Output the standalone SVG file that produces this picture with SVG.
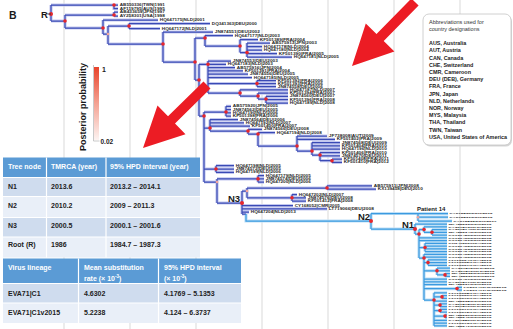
<svg xmlns="http://www.w3.org/2000/svg" xmlns:xlink="http://www.w3.org/1999/xlink" width="513" height="329" viewBox="0 0 513 329">
<style>
text{font-family:"Liberation Sans",Arial,sans-serif}
.grid{stroke:#d9d9d9;stroke-width:1}
.hd{fill:none;stroke:#c3c8ef;stroke-width:3.2}
.cd{fill:none;stroke:#3a4ab5;stroke-width:1.25}
.hl{fill:none;stroke:#bfe0f7;stroke-width:3.2}
.cl{fill:none;stroke:#3b9ae0;stroke-width:1.25}
.dot{fill:#e8262b}
.pale{fill:#f3a39a}
.lab{font-size:2.8px;font-weight:bold;fill:#2a2a2a}
.labl{font-size:2.35px;font-weight:bold;fill:#2a2a2a}
.nl{font-size:9.5px;font-weight:bold;fill:#1a1a1a}
.th{font-size:7px;font-weight:bold;fill:#fff}
.td{font-size:7px;font-weight:bold;fill:#222}
.ab{font-size:5.4px;font-weight:bold;fill:#222}
.abh{font-size:5.5px;fill:#333}
.arrow{fill:#ec1c24}
</style>
<defs>
<linearGradient id="pp" x1="0" y1="0" x2="0" y2="1">
<stop offset="0" stop-color="#e8432b"/>
<stop offset="0.5" stop-color="#f4a293"/>
<stop offset="1" stop-color="#fdf3f1"/>
</linearGradient>
<path id="dk" d="M51 5V21 M51 5H118 M114 5V8.5H118
M51 21H65 M65 15V28 M65 15H114 M114 12V16 M114 12H118 M114 16H118
M65 28H103 M103 20V34 M103 20H158
M103 34H108 M108 26V44
M108 26H129 M129 23.5V28.5 M129 23.5H210 M129 28.5H160
M108 44H163 M163 32V62 M163 32H213
M163 62H195 M195 38V80
M195 38H205 M205 35.5V46 M205 35.5H233
M205 46H240 M240 39.5V52.5 M240 39.5H258
M240 52.5H247 M247 43V57 M247 43H270 M247 46.5H262 M247 50H262 M247 53.5H277 M247 57H292
M195 80H199 M199 64.3V116
M199 64.3H208 M208 61V93 M208 61H231 M208 64.3H226 M208 67.6H235 M208 70.9H243 M208 74.2H248 M208 77.5H252
M208 83.5H257 M257 80.5V86.5 M257 80.5H276 M257 83.5H276 M257 86.5H276
M208 93H240 M240 89.8V96 M240 89.8H288
M240 96H258 M258 93.1V99 M258 93.1H288
M258 99H266 M266 96.4V103 M266 96.4H288 M266 99.7H288 M266 103H288
M199 116H204 M204 112V182
M204 112H226 M226 106.3V116.2 M226 106.3H231 M226 109.6H231 M226 112.9H231 M226 116.2H231
M204 128H210 M210 119.5V131 M210 119.5H238 M210 122.8H244 M210 126.1H250
M210 131H248 M248 129.4V134 M248 129.4H262
M248 134H258 M258 132.7V146 M258 132.7H275
M258 146H297 M297 136V151 M297 136H327 M297 139.3H335
M297 151H312 M312 142.6V155 M312 142.6H340 M312 145.9H340 M312 149.2H340
M312 155H320 M320 152.5V160.7 M320 152.5H340 M320 155.8H340
M320 160.7H332 M332 159.1V162.4 M332 159.1H342 M332 162.4H342
M204 169H216 M216 165.7V172.3 M216 165.7H234 M216 169H234 M216 172.3H234
M204 182H217 M217 178.9V203
M217 178.9H258 M258 175.6V182.2 M258 175.6H264 M258 178.9H264 M258 182.2H264
M217 203H242 M242 191V214
M242 191H247 M247 188V197.8
M247 188H327 M327 185.8V189.1 M327 185.8H372 M327 189.1H376
M247 197.8H292 M292 194.5V201.1 M292 194.5H297 M292 197.8H306 M292 201.1H306
M242 205.5H293 M242 208.8H327 M242 212.1H249 M242 214H246"/>
<path id="lt" d="M246 214V221H371
M371 213.5V229
M371 213.5H448 M418 213.5V221 M418 217.2H448 M418 221H452
M371 229H415 M415 224V234 M415 224H447
M415 234H419 M419 229.5V258 M419 237.75H447 M419 240.5H447
M419 229.5H424 M424 226.75V232.25 M424 226.75H447
M424 232.25H432 M432 229.5V235 M432 229.5H447 M432 232.25H447 M432 235H447
M419 247.5H425 M425 243.25V251.5 M425 243.25H447 M425 246H447 M425 248.75H447 M425 251.5H447
M419 258H424 M424 254.25V300 M424 254.25H447 M424 257H447 M424 279H447 M424 281.75H447 M424 284.5H447
M424 262.5H428 M428 259.75V265.25 M428 259.75H447 M428 262.5H447 M428 265.25H447
M424 270.75H437 M437 268V274.9 M437 268H450 M437 270.75H450
M437 274.9H445 M445 273.5V276.25 M445 273.5H450 M445 276.25H450
M424 288.6H457 M457 287.25V290 M457 287.25H462 M457 290H462
M424 300H434 M434 292.75V325.75 M434 292.75H447 M434 301H447 M434 320.25H447 M434 323H447 M434 325.75H447
M434 296.9H442 M442 295.5V298.25 M442 295.5H447 M442 298.25H447
M434 305.1H440 M440 303.75V306.5 M440 303.75H447 M440 306.5H447
M434 310.6H440 M440 309.25V312 M440 309.25H447 M440 312H447
M434 316.1H445 M445 314.75V317.5 M445 314.75H447 M445 317.5H447"/>
</defs>
<rect width="513" height="329" fill="#fff"/>
<g id="grid">
<path class="grid" d="M64 0V329 M130 0V329 M196 0V329 M262 0V329 M328 0V329 M394 0V329 M460 0V329"/>
</g>
<g id="connectors">
<use href="#dk" class="hd"/>
<use href="#lt" class="hl"/>
<use href="#dk" class="cd"/>
<use href="#lt" class="cl"/>
</g>
<g id="support-dots">
<g class="dot">
<circle cx="114" cy="5" r="1.8"/><circle cx="114" cy="15" r="1.8"/><circle cx="65" cy="21" r="1.8"/><circle cx="103" cy="28" r="1.8"/>
<circle cx="129" cy="26" r="1.8"/><circle cx="163" cy="44" r="1.8"/><circle cx="195" cy="62" r="1.8"/><circle cx="205" cy="38" r="1.8"/>
<circle cx="240" cy="46" r="1.8"/><circle cx="247" cy="52.5" r="1.8"/><circle cx="199" cy="80" r="1.8"/><circle cx="208" cy="64.3" r="1.8"/>
<circle cx="257" cy="83.5" r="1.8"/><circle cx="240" cy="93" r="1.8"/><circle cx="258" cy="96" r="1.8"/><circle cx="266" cy="99" r="1.8"/>
<circle cx="226" cy="112" r="1.8"/><circle cx="204" cy="116" r="1.8"/><circle cx="210" cy="128" r="1.8"/><circle cx="248" cy="131" r="1.8"/>
<circle cx="258" cy="134" r="1.8"/><circle cx="297" cy="146" r="1.8"/><circle cx="312" cy="151" r="1.8"/><circle cx="320" cy="155" r="1.8"/>
<circle cx="332" cy="160.7" r="1.8"/><circle cx="216" cy="169" r="1.8"/><circle cx="258" cy="178.9" r="1.8"/>
<circle cx="327" cy="188" r="1.8"/><circle cx="292" cy="197.8" r="1.8"/>
<circle cx="419" cy="234" r="1.8"/><circle cx="424" cy="229.5" r="1.8"/><circle cx="432" cy="232.25" r="1.8"/><circle cx="425" cy="247.5" r="1.8"/>
<circle cx="424" cy="258" r="1.8"/><circle cx="428" cy="262.5" r="1.8"/><circle cx="437" cy="270.75" r="1.8"/><circle cx="445" cy="274.9" r="1.8"/>
<circle cx="457" cy="288.6" r="1.8"/><circle cx="434" cy="300" r="1.8"/><circle cx="442" cy="296.9" r="1.8"/><circle cx="440" cy="305.1" r="1.8"/>
<circle cx="440" cy="310.6" r="1.8"/><circle cx="445" cy="316.1" r="1.8"/>
</g>
<g class="pale">
<circle cx="108" cy="34" r="1.3"/><circle cx="217" cy="182" r="1.3"/><circle cx="247" cy="191" r="1.3"/><circle cx="418" cy="217.2" r="1.3"/>
</g>
</g>
<g id="node-R">
<circle class="dot" cx="51" cy="14" r="2"/>
<path d="M47.5 14H51" stroke="#333" stroke-width="1"/>
<text class="nl" x="41" y="17.5" font-size="9">R</text>
</g>
<g id="node-N3">
<circle class="dot" cx="242" cy="203" r="2"/>
<text class="nl" x="228" y="201.5">N3</text>
</g>
<g id="node-N2">
<circle class="dot" cx="371" cy="221" r="2"/>
<text class="nl" x="358" y="220">N2</text>
</g>
<g id="node-N1">
<circle class="dot" cx="415" cy="229" r="2"/>
<text class="nl" x="402" y="227.5">N1</text>
</g>
<g id="patient-14">
<text x="417" y="211.3" font-size="6" font-weight="bold" fill="#1a1a1a">Patient 14</text>
</g>
<g id="tip-labels-c1" class="lab">
<text x="119.8" y="6" textLength="45" lengthAdjust="spacingAndGlyphs">AB550336|TWN|1991</text>
<text x="119.8" y="9.5" textLength="45" lengthAdjust="spacingAndGlyphs">AF119795|AUS|1995</text>
<text x="119.8" y="13" textLength="45" lengthAdjust="spacingAndGlyphs">AB433659|JPN|1997</text>
<text x="119.8" y="17" textLength="45" lengthAdjust="spacingAndGlyphs">AY258301|USA|1998</text>
<text x="159.8" y="21" textLength="45" lengthAdjust="spacingAndGlyphs">HQ647175|NLD|2001</text>
<text x="211.8" y="24.5" textLength="45" lengthAdjust="spacingAndGlyphs">DQ341363|DEU|2000</text>
<text x="161.8" y="29.5" textLength="45" lengthAdjust="spacingAndGlyphs">HQ647172|NLD|2001</text>
<text x="214.8" y="33" textLength="45" lengthAdjust="spacingAndGlyphs">JN874551|DEU|2002</text>
<text x="234.8" y="36.5" textLength="45" lengthAdjust="spacingAndGlyphs">HQ647177|NLD|2003</text>
<text x="259.8" y="40.5" textLength="45" lengthAdjust="spacingAndGlyphs">KF501389|FRA|2004</text>
<text x="271.8" y="44" textLength="45" lengthAdjust="spacingAndGlyphs">AB575913|JPN|2003</text>
<text x="263.8" y="47.5" textLength="45" lengthAdjust="spacingAndGlyphs">HQ647178|NLD|2004</text>
<text x="263.8" y="51" textLength="45" lengthAdjust="spacingAndGlyphs">HQ647180|NLD|2004</text>
<text x="278.8" y="54.5" textLength="45" lengthAdjust="spacingAndGlyphs">KF501390|FRA|2005</text>
<text x="293.8" y="58" textLength="45" lengthAdjust="spacingAndGlyphs">HQ647181|NLD|2005</text>
<text x="232.8" y="62" textLength="45" lengthAdjust="spacingAndGlyphs">JN874553|DEU|2003</text>
<text x="227.8" y="65.3" textLength="45" lengthAdjust="spacingAndGlyphs">HQ647183|NLD|2003</text>
<text x="236.8" y="68.6" textLength="45" lengthAdjust="spacingAndGlyphs">AB575916|JPN|2004</text>
<text x="244.8" y="71.9" textLength="45" lengthAdjust="spacingAndGlyphs">KF501391|FRA|2004</text>
<text x="249.8" y="75.2" textLength="45" lengthAdjust="spacingAndGlyphs">JN874556|DEU|2005</text>
<text x="253.8" y="78.5" textLength="45" lengthAdjust="spacingAndGlyphs">HQ647185|NLD|2005</text>
<text x="277.8" y="81.5" textLength="45" lengthAdjust="spacingAndGlyphs">KF501392|FRA|2006</text>
<text x="277.8" y="84.5" textLength="45" lengthAdjust="spacingAndGlyphs">KF501393|FRA|2006</text>
<text x="277.8" y="87.5" textLength="45" lengthAdjust="spacingAndGlyphs">JN874558|DEU|2006</text>
<text x="289.8" y="90.8" textLength="45" lengthAdjust="spacingAndGlyphs">HQ647187|NLD|2007</text>
<text x="289.8" y="94.1" textLength="45" lengthAdjust="spacingAndGlyphs">KF501394|FRA|2007</text>
<text x="289.8" y="97.4" textLength="45" lengthAdjust="spacingAndGlyphs">JN874560|DEU|2007</text>
<text x="289.8" y="100.7" textLength="45" lengthAdjust="spacingAndGlyphs">KF501396|FRA|2008</text>
<text x="289.8" y="104" textLength="45" lengthAdjust="spacingAndGlyphs">HQ647189|NLD|2008</text>
<text x="232.8" y="107.3" textLength="45" lengthAdjust="spacingAndGlyphs">AB575920|JPN|2005</text>
<text x="232.8" y="110.6" textLength="45" lengthAdjust="spacingAndGlyphs">JN874562|DEU|2005</text>
<text x="232.8" y="113.9" textLength="45" lengthAdjust="spacingAndGlyphs">HQ647190|NLD|2006</text>
<text x="232.8" y="117.2" textLength="45" lengthAdjust="spacingAndGlyphs">KF501398|FRA|2006</text>
<text x="239.8" y="120.5" textLength="45" lengthAdjust="spacingAndGlyphs">JN874564|DEU|2006</text>
<text x="245.8" y="123.8" textLength="45" lengthAdjust="spacingAndGlyphs">HQ647192|NLD|2007</text>
<text x="251.8" y="127.1" textLength="45" lengthAdjust="spacingAndGlyphs">KF501400|FRA|2007</text>
<text x="263.8" y="130.4" textLength="45" lengthAdjust="spacingAndGlyphs">JN874566|DEU|2008</text>
<text x="276.8" y="133.7" textLength="45" lengthAdjust="spacingAndGlyphs">HQ647194|NLD|2008</text>
<text x="328.8" y="137" textLength="45" lengthAdjust="spacingAndGlyphs">JF738008|AUT|2009</text>
<text x="336.8" y="140.3" textLength="45" lengthAdjust="spacingAndGlyphs">KF501402|FRA|2009</text>
<text x="341.8" y="143.6" textLength="45" lengthAdjust="spacingAndGlyphs">JN874568|DEU|2009</text>
<text x="341.8" y="146.9" textLength="45" lengthAdjust="spacingAndGlyphs">KF501404|FRA|2010</text>
<text x="341.8" y="150.2" textLength="45" lengthAdjust="spacingAndGlyphs">HQ647196|NLD|2010</text>
<text x="341.8" y="153.5" textLength="45" lengthAdjust="spacingAndGlyphs">KF501406|FRA|2010</text>
<text x="341.8" y="156.8" textLength="45" lengthAdjust="spacingAndGlyphs">JN874570|DEU|2011</text>
<text x="343.8" y="160.1" textLength="45" lengthAdjust="spacingAndGlyphs">KF501408|FRA|2011</text>
<text x="343.8" y="163.4" textLength="45" lengthAdjust="spacingAndGlyphs">KF501410|FRA|2012</text>
<text x="235.8" y="166.7" textLength="45" lengthAdjust="spacingAndGlyphs">HQ647198|NLD|2005</text>
<text x="235.8" y="170" textLength="45" lengthAdjust="spacingAndGlyphs">JN874572|DEU|2005</text>
<text x="235.8" y="173.3" textLength="45" lengthAdjust="spacingAndGlyphs">HQ647199|NLD|2006</text>
<text x="265.8" y="176.6" textLength="45" lengthAdjust="spacingAndGlyphs">HQ647179|NLD|2005</text>
<text x="265.8" y="179.9" textLength="45" lengthAdjust="spacingAndGlyphs">JN874574|DEU|2006</text>
<text x="265.8" y="183.2" textLength="45" lengthAdjust="spacingAndGlyphs">HQ647200|NLD|2006</text>
<text x="373.8" y="186.8" textLength="45" lengthAdjust="spacingAndGlyphs">AB575911|JPN|2008</text>
<text x="377.8" y="190.1" textLength="45" lengthAdjust="spacingAndGlyphs">KX139458|DEU|2010</text>
<text x="298.8" y="195.5" textLength="45" lengthAdjust="spacingAndGlyphs">HQ647202|NLD|2007</text>
<text x="307.8" y="198.8" textLength="45" lengthAdjust="spacingAndGlyphs">JN874576|DEU|2008</text>
<text x="307.8" y="202.1" textLength="45" lengthAdjust="spacingAndGlyphs">KF501412|FRA|2008</text>
<text x="294.8" y="206.5" textLength="45" lengthAdjust="spacingAndGlyphs">CY168052|CMR|2005</text>
<text x="328.8" y="209.8" textLength="45" lengthAdjust="spacingAndGlyphs">LT719066|DEU|2008</text>
<text x="250.8" y="213.1" textLength="45" lengthAdjust="spacingAndGlyphs">HQ647204|NLD|2013</text>
</g>
<g id="tip-labels-c1v2015" class="labl">
<text x="449.5" y="214.4" textLength="43" lengthAdjust="spacingAndGlyphs">KY072830|DEU|2016</text>
<text x="449.5" y="218.1" textLength="43" lengthAdjust="spacingAndGlyphs">KY072831|DEU|2016</text>
<text x="453.5" y="221.9" textLength="43" lengthAdjust="spacingAndGlyphs">KY072832|DEU|2017</text>
<text x="448.5" y="224.9" textLength="43" lengthAdjust="spacingAndGlyphs">MF422533|DEU|2016</text>
<text x="448.5" y="227.65" textLength="43" lengthAdjust="spacingAndGlyphs">KY307873|NLD|2016</text>
<text x="448.5" y="230.4" textLength="43" lengthAdjust="spacingAndGlyphs">KY307874|NLD|2016</text>
<text x="448.5" y="233.15" textLength="43" lengthAdjust="spacingAndGlyphs">MF422534|DEU|2016</text>
<text x="448.5" y="235.9" textLength="43" lengthAdjust="spacingAndGlyphs">KX139459|DEU|2015</text>
<text x="448.5" y="238.65" textLength="43" lengthAdjust="spacingAndGlyphs">KX139460|DEU|2015</text>
<text x="448.5" y="241.4" textLength="43" lengthAdjust="spacingAndGlyphs">KX139461|DEU|2015</text>
<text x="448.5" y="244.15" textLength="43" lengthAdjust="spacingAndGlyphs">KU641506|USA|2015</text>
<text x="448.5" y="246.9" textLength="43" lengthAdjust="spacingAndGlyphs">KX139462|DEU|2015</text>
<text x="448.5" y="249.65" textLength="43" lengthAdjust="spacingAndGlyphs">KX139463|DEU|2015</text>
<text x="448.5" y="252.4" textLength="43" lengthAdjust="spacingAndGlyphs">KX139464|DEU|2015</text>
<text x="448.5" y="255.15" textLength="43" lengthAdjust="spacingAndGlyphs">KX139465|DEU|2015</text>
<text x="448.5" y="257.9" textLength="43" lengthAdjust="spacingAndGlyphs">KX139466|DEU|2015</text>
<text x="448.5" y="260.65" textLength="43" lengthAdjust="spacingAndGlyphs">LT719064|FRA|2016</text>
<text x="448.5" y="263.4" textLength="43" lengthAdjust="spacingAndGlyphs">LT719065|FRA|2016</text>
<text x="448.5" y="266.15" textLength="43" lengthAdjust="spacingAndGlyphs">LT719067|FRA|2016</text>
<text x="451.5" y="268.9" textLength="43" lengthAdjust="spacingAndGlyphs">KY307875|NLD|2016</text>
<text x="451.5" y="271.65" textLength="43" lengthAdjust="spacingAndGlyphs">KY307876|NLD|2016</text>
<text x="451.5" y="274.4" textLength="43" lengthAdjust="spacingAndGlyphs">MF422535|DEU|2016</text>
<text x="451.5" y="277.15" textLength="43" lengthAdjust="spacingAndGlyphs">MF422536|DEU|2016</text>
<text x="448.5" y="279.9" textLength="43" lengthAdjust="spacingAndGlyphs">KX139467|DEU|2015</text>
<text x="448.5" y="282.65" textLength="43" lengthAdjust="spacingAndGlyphs">KY307877|NLD|2016</text>
<text x="448.5" y="285.4" textLength="43" lengthAdjust="spacingAndGlyphs">MF422537|DEU|2016</text>
<text x="463.5" y="288.15" textLength="43" lengthAdjust="spacingAndGlyphs">LC201470|JPN|2016</text>
<text x="463.5" y="290.9" textLength="43" lengthAdjust="spacingAndGlyphs">LC201471|JPN|2016</text>
<text x="448.5" y="293.65" textLength="43" lengthAdjust="spacingAndGlyphs">LT719068|FRA|2016</text>
<text x="448.5" y="296.4" textLength="43" lengthAdjust="spacingAndGlyphs">LT719069|FRA|2016</text>
<text x="448.5" y="299.15" textLength="43" lengthAdjust="spacingAndGlyphs">LT719070|FRA|2016</text>
<text x="448.5" y="301.9" textLength="43" lengthAdjust="spacingAndGlyphs">MF422538|DEU|2016</text>
<text x="448.5" y="304.65" textLength="43" lengthAdjust="spacingAndGlyphs">KY307878|NLD|2016</text>
<text x="448.5" y="307.4" textLength="43" lengthAdjust="spacingAndGlyphs">KY307879|NLD|2016</text>
<text x="448.5" y="310.15" textLength="43" lengthAdjust="spacingAndGlyphs">LT719071|FRA|2016</text>
<text x="448.5" y="312.9" textLength="43" lengthAdjust="spacingAndGlyphs">LT719072|FRA|2016</text>
<text x="448.5" y="315.65" textLength="43" lengthAdjust="spacingAndGlyphs">MF422539|DEU|2016</text>
<text x="448.5" y="318.4" textLength="43" lengthAdjust="spacingAndGlyphs">MF422540|DEU|2016</text>
<text x="448.5" y="321.15" textLength="43" lengthAdjust="spacingAndGlyphs">KY307880|NLD|2016</text>
<text x="448.5" y="323.9" textLength="43" lengthAdjust="spacingAndGlyphs">LT719073|FRA|2016</text>
<text x="448.5" y="326.65" textLength="43" lengthAdjust="spacingAndGlyphs">MF422541|DEU|2016</text>
</g>
<g id="panel-label">
<text x="9" y="18.5" font-size="10.5" font-weight="bold" fill="#1a1a1a">B</text>
</g>
<g id="legend">
<rect x="94" y="67" width="5" height="73" fill="url(#pp)"/>
<path d="M93.5 65V141H99.5" fill="none" stroke="#bbb" stroke-width="0.8"/>
<text x="102" y="71.5" font-size="7" font-weight="bold" fill="#1a1a1a">1</text>
<text x="100.5" y="143.8" font-size="6.5" font-weight="bold" fill="#1a1a1a">0.02</text>
<text transform="translate(85.5,107) rotate(-90)" text-anchor="middle" font-size="9" font-weight="bold" fill="#1a1a1a">Posterior probability</text>
</g>
<g id="table-tmrca">
<rect x="3" y="157.5" width="197" height="20" fill="#5b9bd5"/>
<rect x="3" y="177.5" width="197" height="19" fill="#cfdcee"/>
<rect x="3" y="196.5" width="197" height="21" fill="#e9eff8"/>
<rect x="3" y="217.5" width="197" height="19.5" fill="#cfdcee"/>
<rect x="3" y="237" width="197" height="20.5" fill="#e9eff8"/>
<path d="M46.5 157.5V257.5 M106 157.5V257.5 M3 177.5H200 M3 196.5H200 M3 217.5H200 M3 237H200" stroke="#fff" stroke-width="1.2"/>
<text class="th" x="8" y="168.5">Tree node</text>
<text class="th" x="51" y="168.5">TMRCA (year)</text>
<text class="th" x="110" y="168.5">95% HPD interval (year)</text>
<text class="td" x="8" y="188.5">N1</text><text class="td" x="51" y="188.5">2013.6</text><text class="td" x="110" y="188.5">2013.2 – 2014.1</text>
<text class="td" x="8" y="207.5">N2</text><text class="td" x="51" y="207.5">2010.2</text><text class="td" x="110" y="207.5">2009 – 2011.3</text>
<text class="td" x="8" y="227.5">N3</text><text class="td" x="51" y="227.5">2000.5</text><text class="td" x="110" y="227.5">2000.1 – 2001.6</text>
<text class="td" x="8" y="246.5">Root (R)</text><text class="td" x="51" y="246.5">1986</text><text class="td" x="110" y="246.5">1984.7 – 1987.3</text>
</g>
<g id="table-rates">
<rect x="3" y="258.5" width="238" height="25" fill="#5b9bd5"/>
<rect x="3" y="283.5" width="238" height="19.5" fill="#cfdcee"/>
<rect x="3" y="303" width="238" height="20" fill="#e9eff8"/>
<path d="M78.5 258.5V323 M158.5 258.5V323 M3 283.5H241 M3 303H241" stroke="#fff" stroke-width="1.2"/>
<text class="th" x="8" y="269.5">Virus lineage</text>
<text class="th" x="84" y="269.5">Mean substitution</text>
<text class="th" x="84" y="280.5">rate (× 10<tspan font-size="4.5" dy="-2.5">-3</tspan><tspan dy="2.5">)</tspan></text>
<text class="th" x="164" y="269.5">95% HPD interval</text>
<text class="th" x="164" y="280.5">(× 10<tspan font-size="4.5" dy="-2.5">-3</tspan><tspan dy="2.5">)</tspan></text>
<text class="td" x="8" y="295.5">EVA71|C1</text><text class="td" x="84" y="295.5">4.6302</text><text class="td" x="164" y="295.5">4.1769 – 5.1353</text>
<text class="td" x="8" y="315">EVA71|C1v2015</text><text class="td" x="84" y="315">5.2238</text><text class="td" x="164" y="315">4.124 – 6.3737</text>
</g>
<g id="abbreviations">
<rect x="424" y="15.5" width="88" height="131" rx="6" fill="#d6d6d6"/>
<rect x="423" y="14" width="88" height="131" rx="6" fill="#fff" stroke="#c4c4c4" stroke-width="0.8"/>
<text class="abh" x="429" y="23.5">Abbreviations used for</text>
<text class="abh" x="429" y="30.5">country designations</text>
<text class="ab" x="429" y="45.2">AUS, Australia</text>
<text class="ab" x="429" y="52.4">AUT, Austria</text>
<text class="ab" x="429" y="59.6">CAN, Canada</text>
<text class="ab" x="429" y="66.8">CHE, Switzerland</text>
<text class="ab" x="429" y="74">CMR, Cameroon</text>
<text class="ab" x="429" y="81.2">DEU (DEB), Germany</text>
<text class="ab" x="429" y="88.4">FRA, France</text>
<text class="ab" x="429" y="95.6">JPN, Japan</text>
<text class="ab" x="429" y="102.8">NLD, Netherlands</text>
<text class="ab" x="429" y="110">NOR, Norway</text>
<text class="ab" x="429" y="117.2">MYS, Malaysia</text>
<text class="ab" x="429" y="124.4">THA, Thailand</text>
<text class="ab" x="429" y="131.6">TWN, Taiwan</text>
<text class="ab" x="429" y="138.8">USA, United States of America</text>
</g>
<g id="arrows">
<polygon class="arrow" points="143,148 185.5,134.2 175,123.5 210.5,88.6 203.5,81.4 168,116.3 157.5,105.6"/>
<polygon class="arrow" points="352,66 394.4,51.5 383.7,41 418.6,5.5 411.4,-1.5 376.5,34 365.8,23.5"/>
</g>
</svg>
